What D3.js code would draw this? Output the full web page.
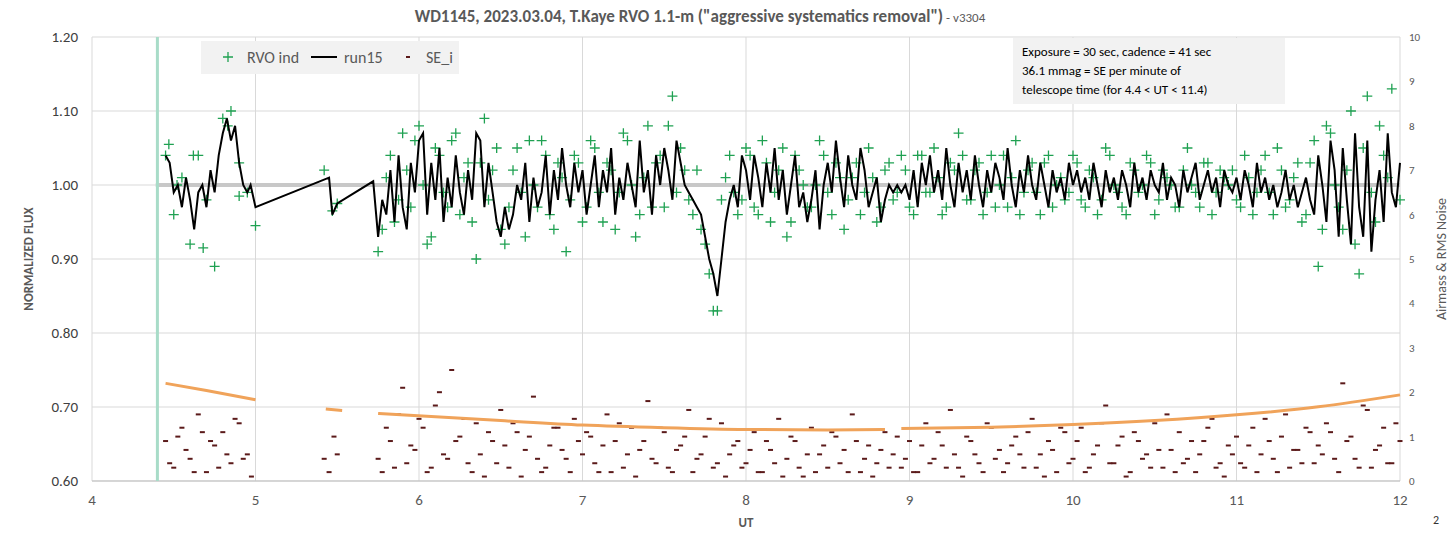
<!DOCTYPE html>
<html><head><meta charset="utf-8">
<script src="https://cdn.jsdelivr.net/npm/d3@7"></script>
<style>body{margin:0;background:#fff;font-family:Calibri,"Liberation Sans",Arial,sans-serif}</style>
</head><body><svg id="c" width="1456" height="534"></svg>
<script>
// run15 (smoothed) segments: start UT, step in hours, flux values
const lineStart1 = 4.45, lineStep = 0.025;
const line1 = [1.04,1.03,0.99,1.00,0.97,1.01,0.98,0.94,0.99,1.00,0.97,1.02,0.99,1.04,1.07,1.09,1.06,1.08,1.03,1.00,0.99];
const lineGapUT = [4.97,5.0,5.45,5.47,5.5,5.72];
const lineGapFlux = [1.0,0.97,1.01,0.96,0.975,1.005];
const lineStart2 = 5.75;
const line2 = [0.93,0.98,0.96,1.02,0.95,1.04,0.97,0.94,1.03,0.99,
1.06,1.07,0.96,1.03,0.98,1.05,0.95,1.01,0.97,1.04,0.99,0.96,1.02,0.98,1.07,1.06,0.97,1.03,0.99,0.95,0.93,0.97,0.94,0.96,1.00,0.98,1.03,0.95,1.01,0.97,0.99,1.04,0.96,1.02,0.98,1.05,1.00,0.97,1.03,0.99,
1.02,0.96,1.00,1.04,0.97,1.02,0.99,1.05,0.96,1.01,0.98,1.03,1.00,0.97,1.06,0.99,1.02,0.96,1.04,1.00,1.05,1.02,0.98,1.06,1.03,1.00,0.99,0.98,0.97,0.96,0.93,0.90,0.88,0.85,0.90,0.95,0.98,1.00,0.97,1.04,
1.02,0.98,1.04,1.01,0.97,1.03,0.99,1.05,0.98,1.02,0.96,1.00,1.04,0.97,0.99,0.95,0.98,1.02,0.94,1.00,1.03,0.99,1.06,1.01,0.97,1.04,1.00,0.98,1.05,1.02,0.97,0.99,1.01,0.95,0.98,1.00,0.99,1.00,0.99,1.00,
0.98,1.02,0.97,1.03,1.00,1.04,0.99,1.02,0.98,1.05,1.00,0.97,1.03,0.99,1.02,0.98,1.04,1.00,0.97,1.02,0.99,1.03,1.01,0.98,1.05,1.00,0.97,1.02,0.99,1.04,1.00,0.98,1.03,1.00,0.97,1.02,0.99,1.01,0.98,1.03,
1.00,1.02,0.99,1.01,0.98,1.03,1.00,0.97,1.02,0.99,1.01,0.98,1.02,1.00,0.97,1.03,0.99,1.01,0.98,1.02,1.00,0.99,1.03,0.98,1.01,1.00,0.97,1.02,0.99,1.01,1.03,0.98,1.00,1.02,0.99,1.01,0.97,1.02,1.00,0.99,
1.01,0.98,1.02,1.00,0.97,1.03,0.99,1.01,0.98,1.00,0.97,0.99,1.02,0.98,1.00,0.97,0.99,1.01,0.98,0.96,1.04,1.00,0.95,1.06,1.02,0.93,1.05,0.98,0.92,1.07,0.97,0.93,1.06,0.91,0.98,1.02,0.95,1.07,0.99,0.97,1.03];

// RVO individual points (green +)
const ptStep = 0.05;
const ptStart1 = 4.45;
const pts1 = [1.04,0.96,1.01,0.92,1.04,0.98,0.89,1.09,1.10,1.03,0.99];
const ptExtraUT = [4.47,4.52,4.62,4.68,4.83,4.9,5.0,5.42,5.47,5.5];
const ptExtraFlux = [1.055,1.0,1.04,0.915,1.08,0.985,0.945,1.02,0.965,0.975];
const ptStartA = 5.75;
const ptsA = [0.91,1.01,0.95,1.07,0.97,
1.08,0.92,1.05,0.99,1.06,0.96,1.03,0.90,1.09,1.02,0.94,0.97,1.05,0.93,1.00,1.06,0.96,1.03,0.91,1.04,
0.95,1.06,0.99,1.03,0.94,1.07,1.00,0.96,1.08,1.03,0.97,1.12,1.05,0.98,1.02,0.92,0.83,0.98,1.04,0.96,
1.05,0.97,1.06,0.95,1.02,0.93,1.04,1.00,0.97,1.06,0.99,1.03,0.94,1.01,0.96,1.05,0.95,1.02,0.98,1.04,
0.97,1.04,0.99,1.05,0.96,1.03,1.07,0.98,1.02,0.96,1.04,1.00,0.97,1.06,0.99,1.03,0.96,1.04,1.00,0.98,
1.04,0.98,1.02,0.96,1.05,1.00,0.97,1.03,0.99,1.04,0.96,1.02,1.00,0.97,1.05,0.99,1.03,0.96,1.02,1.00,
0.98,1.04,0.96,1.02,0.99,1.05,0.97,1.01,0.95,1.03,0.89,1.08,1.00,0.94,1.10,0.88,1.12,0.95,1.04,1.13,0.98];
const ptStartB = 5.775;
const ptsB = [0.94,1.04,0.98,1.02,
1.06,1.00,0.93,1.04,0.97,1.07,1.01,0.95,1.03,0.98,1.05,0.92,1.02,0.99,1.06,0.97,1.04,0.94,1.01,0.98,
1.03,0.97,1.05,0.95,1.02,0.99,1.06,0.93,1.01,0.97,1.04,1.08,0.99,1.02,0.96,0.94,0.88,0.83,1.01,0.99,
0.98,1.04,0.96,1.03,0.99,1.05,0.95,1.02,0.97,1.00,1.04,0.96,1.01,0.98,1.03,0.99,1.01,0.97,1.03,0.99,
1.02,0.96,1.04,0.99,1.01,0.97,1.02,1.04,0.98,1.03,0.99,0.97,1.04,1.01,0.96,1.02,0.99,1.03,0.97,1.01,
0.99,1.03,0.97,1.01,0.98,1.04,0.99,0.96,1.02,1.00,1.03,0.98,1.01,0.97,1.02,1.00,0.97,1.03,0.99,1.01,
1.02,0.97,1.01,0.99,1.04,0.96,1.02,0.98,1.03,0.96,1.06,0.94,1.07,0.97,1.02,0.92,1.05,0.99,1.08,1.01];

// SE_i (right axis)
const seStart1 = 4.45;
const se1 = [0.9,0.3,1.2,0.5,1.5,0.2,0.8,1.1,0.4,1.3,0.6];
const se1b = [0.4,1.0,0.7,0.2,1.1,0.9,0.3,0.6,1.4,0.5,0.1];
const seExtraUT = [5.42,5.45,5.48,5.5];
const seExtraVal = [0.5,0.2,1.0,0.6];
const seStartA = 5.75;
const seA = [0.5,1.2,0.3,2.1,0.8,
1.4,0.2,1.7,0.6,2.5,1.0,0.4,1.3,0.1,0.9,1.6,0.3,1.1,0.7,1.9,0.2,0.8,1.2,0.5,1.4,
0.6,1.0,0.2,1.5,0.9,0.3,1.2,0.7,1.8,0.4,1.1,0.2,0.8,1.6,0.5,1.0,0.3,1.3,0.6,0.9,
0.4,1.1,0.2,0.7,1.4,0.5,0.9,0.1,1.2,0.6,0.3,1.0,0.7,1.5,0.2,0.8,0.4,1.1,0.6,0.3,
0.9,0.2,1.3,0.5,0.8,1.6,0.3,1.0,0.6,0.2,1.2,0.7,0.4,1.0,0.3,1.4,0.6,0.9,0.2,1.1,
0.5,1.2,0.3,0.8,1.7,0.4,1.0,0.2,0.9,0.6,1.3,0.3,0.7,1.1,0.5,0.2,0.9,1.4,0.4,0.8,
1.0,0.3,1.2,0.6,0.9,0.2,1.5,0.7,0.4,1.1,0.8,1.3,0.5,2.2,1.0,0.3,1.6,0.7,1.2,0.4,0.9];
const seStartB = 5.775;
const seB = [0.2,0.9,1.5,0.4,
0.7,1.2,0.3,2.0,0.5,0.9,1.4,0.2,0.6,1.1,0.4,0.8,1.3,0.1,1.0,0.5,0.3,1.2,0.7,0.2,0.9,
1.1,0.4,0.8,0.2,1.3,0.6,0.1,0.9,0.5,1.2,0.3,0.7,1.0,0.2,0.6,1.4,0.4,0.1,0.8,0.3,
0.7,0.2,0.9,0.4,0.1,1.0,0.3,0.6,0.2,0.8,1.1,0.4,0.2,0.9,0.5,0.1,0.7,0.3,1.0,0.5,
0.2,0.8,0.4,1.1,0.3,0.6,0.1,0.9,0.4,1.3,0.5,0.2,0.8,0.6,1.1,0.3,0.1,0.7,1.2,0.4,
0.9,0.2,0.6,1.3,0.4,0.8,0.1,1.1,0.5,0.3,0.7,1.5,0.2,0.4,0.9,0.6,1.2,0.3,0.1,0.6,
0.4,0.8,0.2,1.4,0.5,1.0,0.3,0.7,1.2,0.4,0.6,1.1,0.2,0.9,0.5,1.7,0.3,0.8,0.4,1.3];

// Airmass (right axis), four segments
const amUT1 = [4.45,4.7,5.0], amVal1 = [2.2,2.04,1.83];
const amUT2 = [5.43,5.53], amVal2 = [1.62,1.59];
const amUT3 = [5.75,6.5,7.0,7.5,8.0,8.5,8.85], amVal3 = [1.52,1.36,1.26,1.2,1.16,1.15,1.16];
const amUT4 = [8.95,9.5,10.0,10.5,11.0,11.5,12.0], amVal4 = [1.18,1.21,1.27,1.36,1.49,1.67,1.94];

const xTicks = [4,5,6,7,8,9,10,11,12];
const yTicks = [0.60,0.70,0.80,0.90,1.00,1.10,1.20];
const rTicks = [0,1,2,3,4,5,6,7,8,9,10];

const svg = d3.select('#c');
const L = 92, R = 1400, T = 37, B = 481;
const x = d3.scaleLinear().domain([4,12]).range([L,R]);
const y = d3.scaleLinear().domain([0.6,1.2]).range([B,T]);
const yr = d3.scaleLinear().domain([0,10]).range([B,T]);
const grey = '#595959';

// grid
svg.append('g').selectAll('line').data(yTicks).join('line')
  .attr('x1',L).attr('x2',R).attr('y1',d=>y(d)).attr('y2',d=>y(d)).attr('stroke','#d9d9d9');
svg.append('g').selectAll('line').data(xTicks).join('line')
  .attr('y1',T).attr('y2',B).attr('x1',d=>x(d)).attr('x2',d=>x(d)).attr('stroke','#d9d9d9');
svg.append('line').attr('x1',L).attr('x2',R).attr('y1',B).attr('y2',B).attr('stroke','#bfbfbf');

// reference line at 1.0 and start marker
svg.append('line').attr('x1',x(4.39)).attr('x2',R).attr('y1',y(1)).attr('y2',y(1)).attr('stroke','#c8c8c8').attr('stroke-width',4);
svg.append('line').attr('x1',x(4.4)).attr('x2',x(4.4)).attr('y1',T).attr('y2',B).attr('stroke','#a8dcc8').attr('stroke-width',3);

// axis labels
svg.append('g').selectAll('text').data(yTicks).join('text')
  .attr('x',L-14).attr('y',d=>y(d)+5).attr('text-anchor','end').attr('font-size',15).attr('fill','#404040')
  .text(d=>d.toFixed(2));
svg.append('g').selectAll('text').data(xTicks).join('text')
  .attr('x',d=>x(d)).attr('y',B+24).attr('text-anchor','middle').attr('font-size',15).attr('fill',grey).text(d=>d);
svg.append('g').selectAll('text').data(rTicks).join('text')
  .attr('x',R+9).attr('y',d=>yr(d)+4).attr('font-size',11).attr('fill',grey).text(d=>d);

svg.append('text').attr('x',x(8)).attr('y',527).attr('text-anchor','middle').attr('font-size',13)
  .attr('font-weight','bold').attr('fill',grey).text('UT');
svg.append('text').attr('transform',`translate(33,${(T+B)/2}) rotate(-90)`).attr('text-anchor','middle')
  .attr('font-size',13).attr('font-weight','bold').attr('fill',grey).text('NORMALIZED FLUX');
svg.append('text').attr('transform',`translate(1446,${(T+B)/2}) rotate(-90)`).attr('text-anchor','middle')
  .attr('font-size',14).attr('fill',grey).text('Airmass & RMS Noise');
svg.append('text').attr('x',1433).attr('y',524).attr('font-size',12).attr('fill','#333').text('2');

const title = svg.append('text').attr('x',700).attr('y',22).attr('text-anchor','middle').attr('fill',grey);
title.append('tspan').attr('font-size',17).attr('font-weight','bold')
  .text('WD1145, 2023.03.04, T.Kaye RVO 1.1-m ("aggressive systematics removal")');
title.append('tspan').attr('font-size',13).text(' - v3304');

// build point lists
const seq = (start, step, vals) => vals.map((v,i)=>[start+i*step, v]);
const zip = (a,b) => a.map((v,i)=>[v,b[i]]);

// SE_i dashes
const seData = [...seq(seStart1,ptStep,se1), ...seq(seStart1+0.025,ptStep,se1b), ...zip(seExtraUT,seExtraVal),
  ...seq(seStartA,ptStep,seA), ...seq(seStartB,ptStep,seB)].filter(d=>d[0]<=12);
svg.append('g').selectAll('rect').data(seData).join('rect')
  .attr('x',d=>x(d[0])-2.5).attr('y',d=>yr(d[1])-1).attr('width',5).attr('height',2).attr('fill','#5b1a1a');

// airmass
const am = d3.line().x(d=>x(d[0])).y(d=>yr(d[1])).curve(d3.curveMonotoneX);
[[amUT1,amVal1],[amUT2,amVal2],[amUT3,amVal3],[amUT4,amVal4]].forEach(([u,v])=>{
  svg.append('path').attr('d',am(zip(u,v))).attr('fill','none').attr('stroke','#f0a35a').attr('stroke-width',3);
});

// green points
const ptData = [...seq(ptStart1,ptStep,pts1), ...zip(ptExtraUT,ptExtraFlux), ...seq(ptStartA,ptStep,ptsA), ...seq(ptStartB,ptStep,ptsB)]
  .filter(d=>d[0]<=12.01);
svg.append('g').selectAll('path').data(ptData).join('path')
  .attr('transform',d=>`translate(${x(d[0])},${y(d[1])})`)
  .attr('d','M-5,0H5M0,-5V5').attr('stroke','#1fa152').attr('stroke-width',1.3);

// run15 line
const lineData = [...seq(lineStart1,lineStep,line1), ...zip(lineGapUT,lineGapFlux), ...seq(lineStart2,lineStep,line2)];
svg.append('path').attr('d',d3.line().x(d=>x(d[0])).y(d=>y(d[1]))(lineData))
  .attr('fill','none').attr('stroke','#000').attr('stroke-width',2);

// legend
const lg = svg.append('g');
lg.append('rect').attr('x',201).attr('y',41).attr('width',258).attr('height',33).attr('fill','#f2f2f2');
lg.append('path').attr('d','M223,57H233M228,52V62').attr('stroke','#1fa152').attr('stroke-width',1.3);
lg.append('text').attr('x',247).attr('y',63).attr('font-size',16).attr('fill',grey).text('RVO ind');
lg.append('line').attr('x1',311).attr('x2',337).attr('y1',57).attr('y2',57).attr('stroke','#000').attr('stroke-width',2);
lg.append('text').attr('x',344).attr('y',63).attr('font-size',16).attr('fill',grey).text('run15');
lg.append('rect').attr('x',406).attr('y',56).attr('width',4).attr('height',2).attr('fill','#5b1a1a');
lg.append('text').attr('x',426).attr('y',63).attr('font-size',16).attr('fill',grey).text('SE_i');

// info box
const ib = svg.append('g');
ib.append('rect').attr('x',1013).attr('y',38).attr('width',272).attr('height',66).attr('fill','#f2f2f2');
['Exposure = 30 sec, cadence = 41 sec','36.1 mmag = SE per minute of','telescope time  (for 4.4 < UT < 11.4)']
  .forEach((t,i)=>ib.append('text').attr('x',1022).attr('y',56+i*19).attr('font-size',13).attr('fill','#000').text(t));
</script></body></html>
